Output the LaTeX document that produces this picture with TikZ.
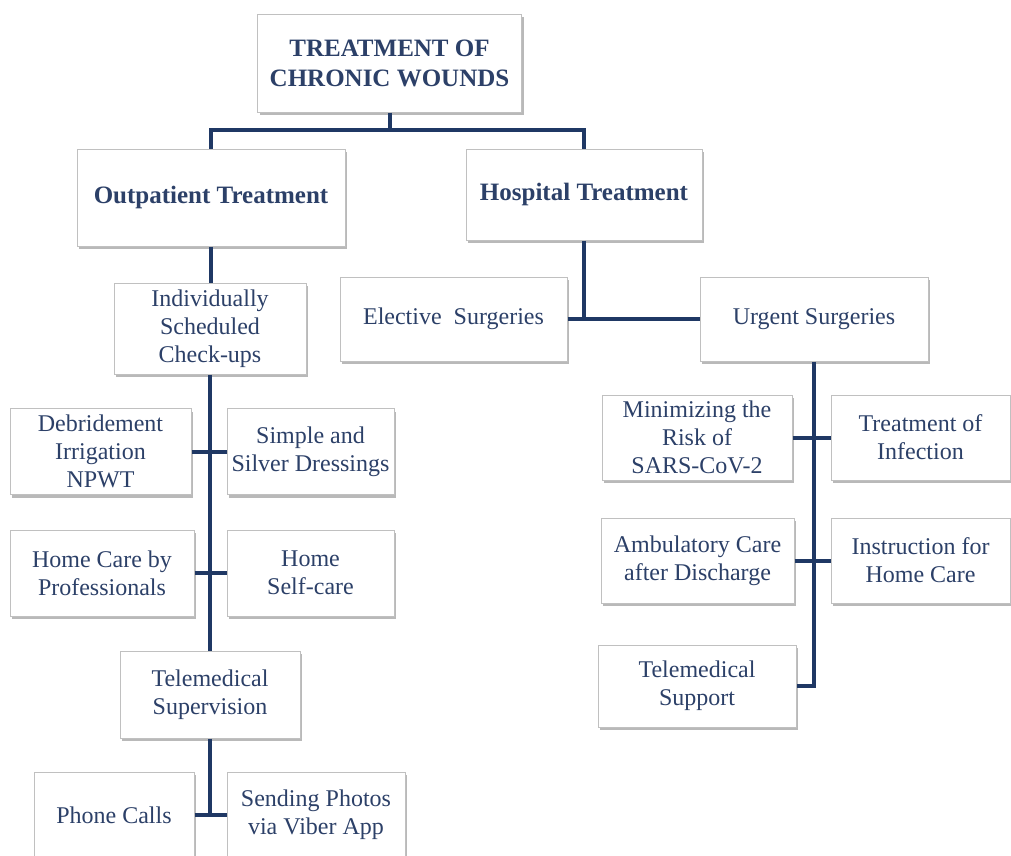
\documentclass[tikz,border=0pt]{standalone}
\usepackage{fontspec}
\setmainfont{Liberation Serif}
\usetikzlibrary{shadows}

\definecolor{navy}{RGB}{31,56,100}
\definecolor{textnavy}{RGB}{44,64,104}
\definecolor{boxgray}{RGB}{192,192,192}

\tikzset{
	box/.style={draw=boxgray, line width=1pt, fill=white, align=center, inner sep=0pt,
		text=textnavy, font=\fontsize{24}{28}\selectfont,
		drop shadow={shadow xshift=2pt, shadow yshift=-3pt, fill=black!50, opacity=0.55}},
	headbox/.style={box, font=\bfseries\fontsize{25}{30}\selectfont},
	link/.style={draw=navy, line width=4pt},
	size/.style 2 args={minimum width=#1pt, minimum height=#2pt},
}

\begin{document}
\begin{tikzpicture}[x=1pt, y=-1pt]
	\useasboundingbox (0, 0) rectangle (1011, 855);

	% title and the two main branches
	\node[headbox, size={264}{98}] (title) at (389.5, 63) {TREATMENT OF\\CHRONIC WOUNDS};
	\node[headbox, size={268}{97}] (outpat) at (211, 197.5) {Outpatient Treatment};
	\node[headbox, size={236}{91}] (hosp) at (584, 194.5) {Hospital Treatment};

	\coordinate (mainbar) at (390, 130);
	\draw[link] (title.south) -- (title.south |- mainbar);
	\draw[link] (outpat.north) |- (hosp.north |- mainbar) -- (hosp.north);

	% outpatient side
	\node[box, size={192}{91}] (checkups) at (210, 328.5) {Individually\\Scheduled\\Check-ups};
	\node[box, size={181}{86}] (debr) at (100.5, 451.5) {Debridement\\Irrigation\\NPWT};
	\node[box, size={167}{86}] (dress) at (310.5, 451.5) {Simple and\\Silver Dressings};
	\node[box, size={184}{86}] (profcare) at (102, 573) {Home Care by\\Professionals};
	\node[box, size={167}{86}] (selfcare) at (310.5, 573) {Home\\Self-care};
	\node[box, size={180}{87}] (telesup) at (210, 694.5) {Telemedical\\Supervision};
	\node[box, size={160}{86}] (phone) at (114, 815) {Phone Calls};
	\node[box, size={178}{86}] (viber) at (316, 815) {Sending Photos\\via Viber App};

	\draw[link] (outpat.south) -- (outpat.south |- checkups.north);
	\draw[link] (checkups.south) -- (telesup.north);
	\draw[link] (debr.east) -- (dress.west);
	\draw[link] (profcare.east) -- (selfcare.west);
	\draw[link] (telesup.south) -- (telesup.south |- phone.east);
	\draw[link] (phone.east) -- (viber.west);

	% hospital side
	\node[box, size={227}{84}] (elective) at (453.5, 319) {Elective~ Surgeries};
	\node[box, size={228}{84}] (urgent) at (814, 319) {Urgent Surgeries};
	\node[box, size={190}{85}] (sars) at (697, 437.5) {Minimizing the\\Risk of\\SARS-CoV-2};
	\node[box, size={179}{85}] (infect) at (920.5, 437.5) {Treatment of\\Infection};
	\node[box, size={193}{85}] (ambul) at (697.5, 560.5) {Ambulatory Care\\after Discharge};
	\node[box, size={179}{85}] (instr) at (920.5, 560.5) {Instruction for\\Home Care};
	\node[box, size={198}{82}] (telesupp) at (697, 686) {Telemedical\\Support};

	\draw[link] (hosp.south) -- (hosp.south |- elective.east);
	\draw[link] (elective.east) -- (urgent.west);
	\draw[link] (urgent.south) |- (telesupp.east);
	\draw[link] (sars.east) -- (infect.west);
	\draw[link] (ambul.east) -- (instr.west);
\end{tikzpicture}
\end{document}
